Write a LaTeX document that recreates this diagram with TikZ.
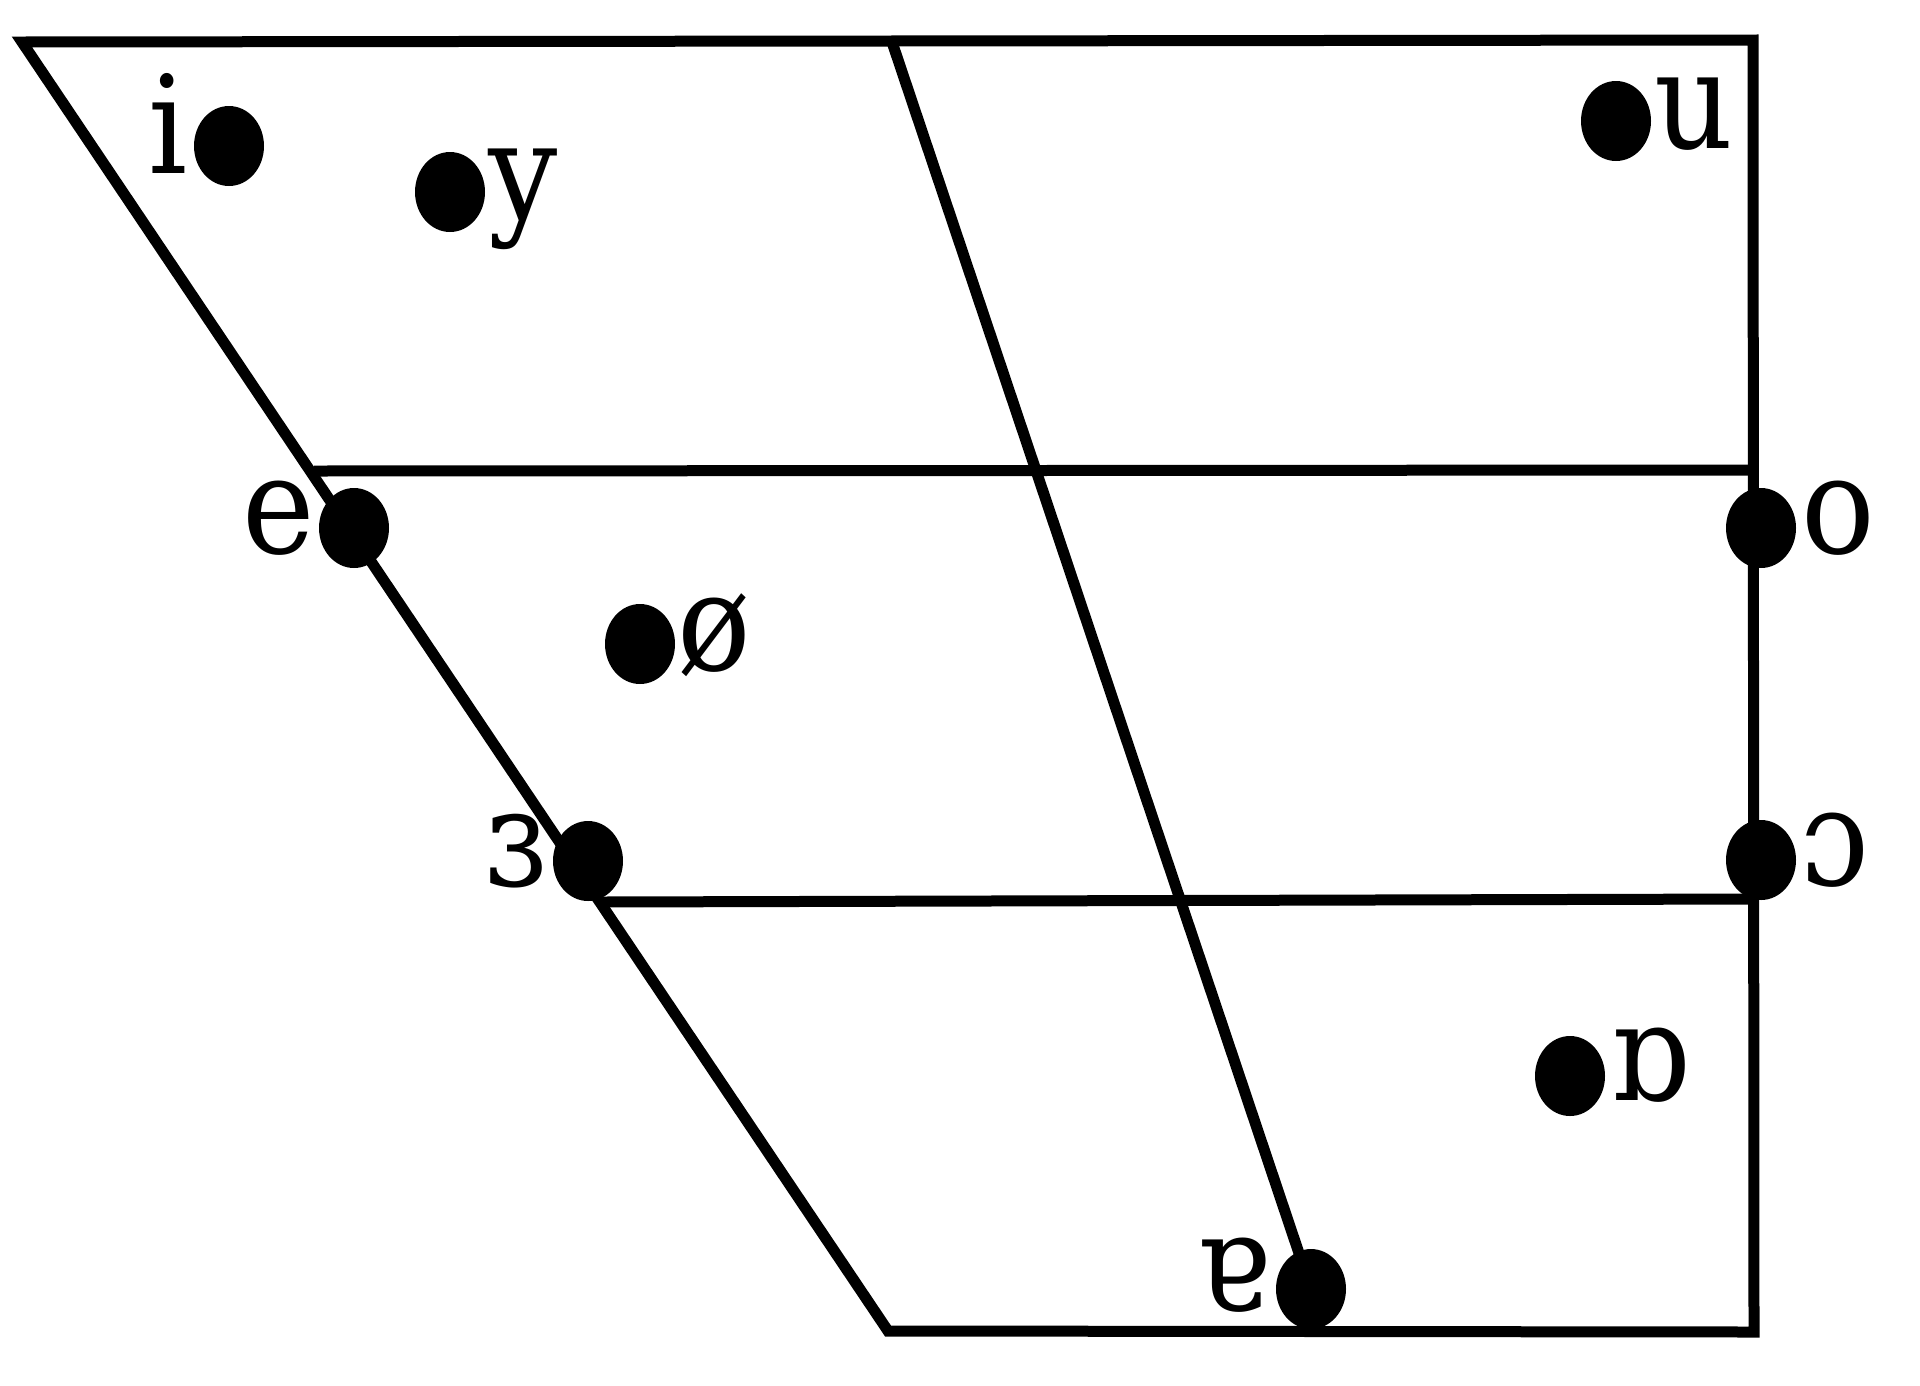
\documentclass[tikz,border=0pt]{standalone}
\usepackage{fontspec}
\setmainfont{DejaVu Serif Condensed}
\usetikzlibrary{shapes.geometric}
\tikzstyle{vowel} = [ellipse, fill=black, inner sep=0pt, minimum width=70pt, minimum height=80pt]
\tikzstyle{sym} = [inner sep=0pt, anchor=base, font=\fontsize{136}{150}\selectfont]
\tikzstyle{edge} = [line width=11pt, line join=miter]

\begin{document}
\begin{tikzpicture}[x=1pt, y=-1pt]
	\useasboundingbox (0,0) rectangle (1920,1385);
	
	% Corners
	\coordinate (tl) at (22,42);
	\coordinate (tr) at (1753,40);
	\coordinate (br) at (1754,1332);
	\coordinate (bl) at (888,1331);
	\coordinate (tm) at (892,42);
	\coordinate (midl) at (314,471);
	\coordinate (midr) at (1753,470);
	\coordinate (lowl) at (602,902);
	\coordinate (lowr) at (1754,899);
	
	% Dots
	\node (i) [vowel] at (229,146) {};
	\node (y) [vowel] at (450,192) {};
	\node (u) [vowel] at (1616,121) {};
	\node (e) [vowel] at (354,528) {};
	\node (oe) [vowel] at (640,644) {};
	\node (o) [vowel] at (1761,528) {};
	\node (eps) [vowel] at (588,861) {};
	\node (oo) [vowel] at (1761,860) {};
	\node (ao) [vowel] at (1570,1076) {};
	\node (at) [vowel] at (1311,1289) {};
	
	% Symbols
	\node (il) [sym] at (168,173) {i};
	\node (yl) [sym] at (523,219) {y};
	\node (ul) [sym] at (1694,148) {u};
	\node (el) [sym] at (279,553) {e};
	\node (oel) [sym] at (714,670) {ø};
	\node (ol) [sym] at (1838,553) {o};
	\node (epsl) [sym] at (516,885) {ɜ};
	\node (ool) [sym] at (1835,885) {ɔ};
	\node (aol) [sym] at (1650,1100) {ɒ};
	\node (atl) [sym] at (1233,1310) {ɐ};
	
	% Lines
	\draw [edge] (tl) -- (tr) -- (br) -- (bl) -- cycle;
	\draw [edge] (midl) -- (midr);
	\draw [edge] (lowl) -- (lowr);
	\draw [edge] (tm) -- (at.center);
	
\end{tikzpicture}
\end{document}
